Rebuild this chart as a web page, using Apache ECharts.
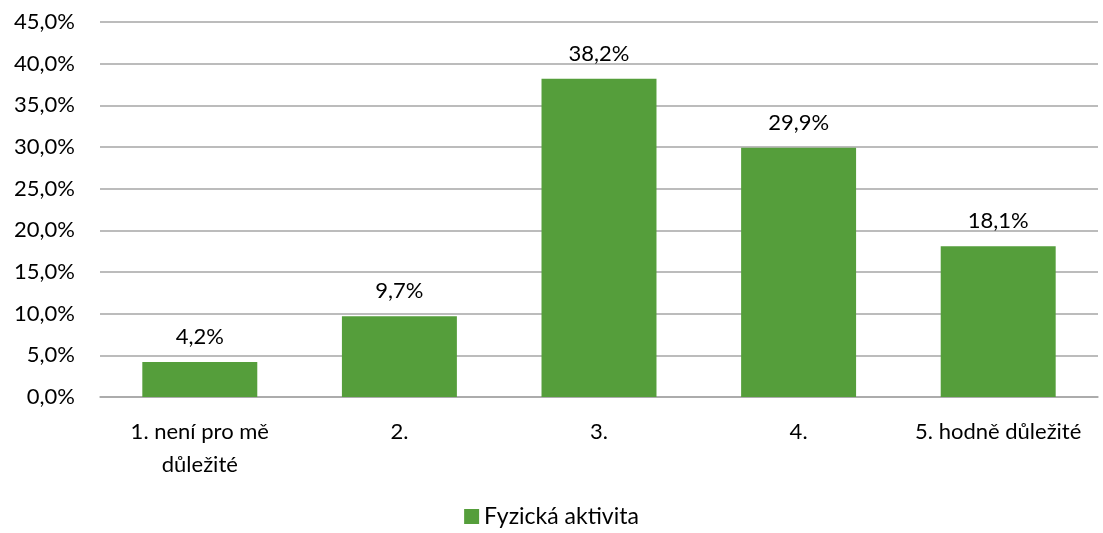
<!DOCTYPE html>
<html>
<head>
<meta charset="utf-8">
<script src="https://cdn.jsdelivr.net/npm/echarts@6/dist/echarts.min.js"></script>
<style>
  html, body { margin: 0; padding: 0; background: #fff; }
  #chart { width: 1103px; height: 533px; }
</style>
</head>
<body>
<div id="chart"></div>
<script>
// categories and values
const categories = ['1. není pro mě důležité', '2.', '3.', '4.', '5. hodně důležité'];
const values = [4.2, 9.7, 38.2, 29.9, 18.1];
const seriesName = 'Fyzická aktivita';

const pct = (v) => v.toFixed(1).replace('.', ',') + '%';

let chart = echarts.init(document.getElementById('chart'));
let option = {
    animation: false,
    textStyle: { fontFamily: 'Lato', color: '#000' },
    grid: { left: 100, right: 5, top: 22, bottom: 136 },
    legend: {
        bottom: 0,
        itemWidth: 15,
        itemHeight: 15,
        itemGap: 10,
        icon: 'rect',
        textStyle: { fontSize: 23, color: '#000', fontFamily: 'Lato' },
        data: [seriesName]
    },
    xAxis: {
        type: 'category',
        data: categories,
        axisTick: { show: false },
        axisLine: { lineStyle: { color: '#a6a6a6', width: 1.5 } },
        axisLabel: {
            fontSize: 22,
            color: '#000',
            margin: 18,
            lineHeight: 33,
            interval: 0,
            // the first label wraps onto two lines in the original
            formatter: (v) => v.replace('mě ', 'mě\n')
        }
    },
    yAxis: {
        type: 'value',
        min: 0,
        max: 45,
        interval: 5,
        axisLine: { show: false },
        axisTick: { show: false },
        splitLine: { lineStyle: { color: '#a6a6a6', width: 1.5 } },
        axisLabel: {
            fontSize: 22,
            color: '#000',
            margin: 25,
            formatter: pct
        }
    },
    series: [
        {
            name: seriesName,
            type: 'bar',
            barWidth: '57.6%',
            data: values,
            itemStyle: { color: '#559E3B' },
            label: {
                show: true,
                position: 'top',
                distance: 14,
                fontSize: 22,
                color: '#000',
                formatter: (p) => pct(p.value)
            }
        }
    ]
};
chart.setOption(option);
</script>
</body>
</html>
